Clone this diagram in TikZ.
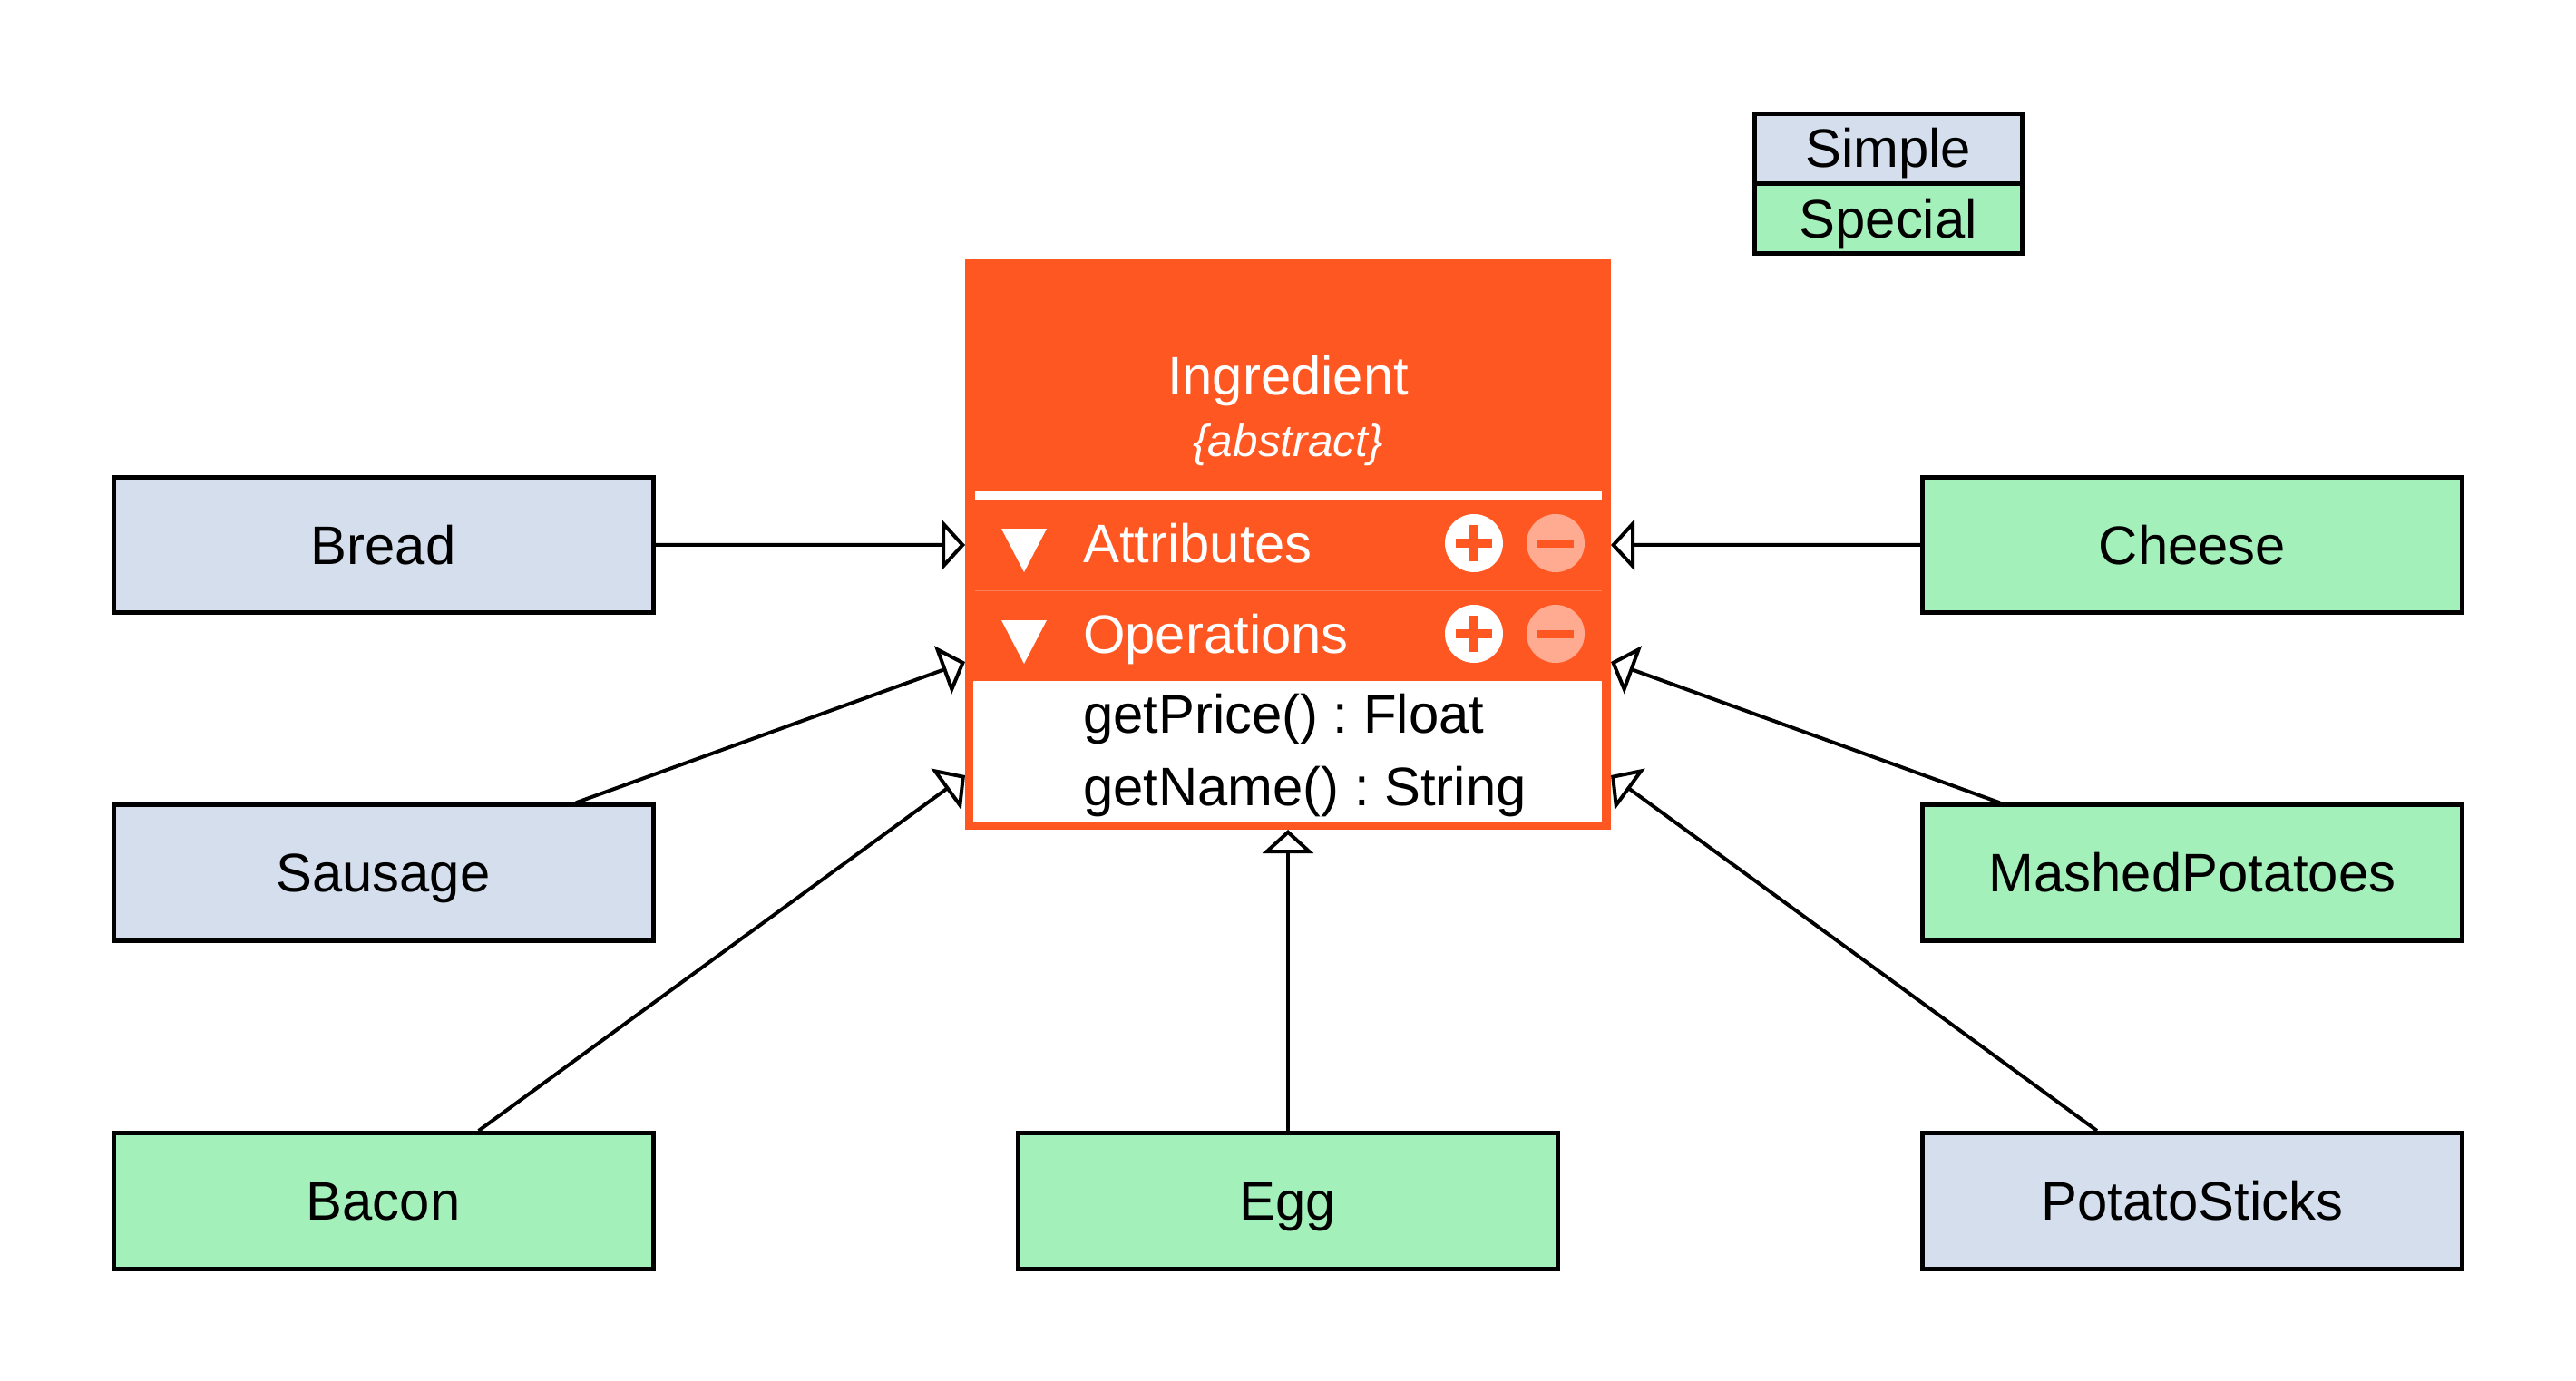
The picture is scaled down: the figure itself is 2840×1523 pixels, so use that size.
\documentclass[tikz,border=0pt]{standalone}
\usepackage{fontspec}
\setmainfont{Liberation Sans}
\usetikzlibrary{arrows.meta,calc}
\definecolor{dorange}{HTML}{FF5722}
\definecolor{lorange}{HTML}{FFAB91}
\definecolor{sblue}{HTML}{D4DEED}
\definecolor{sgreen}{HTML}{A3F0BA}
\frenchspacing
\begin{document}
\begin{tikzpicture}[x=1pt,y=-1pt,
  bigfont/.style={font=\fontsize{59.8pt}{72pt}\selectfont},
  cls/.style={draw=black, line width=5pt, minimum width=595pt, minimum height=149.5pt,
    inner sep=0pt, bigfont, text height=42.5pt, text depth=0pt},
  simplebox/.style={cls, fill=sblue},
  specialbox/.style={cls, fill=sgreen},
  legendbox/.style={draw=black, line width=5pt, minimum width=294.5pt, inner sep=0pt,
    bigfont, text height=42.5pt, text depth=0pt},
  inh/.style={line width=4pt, -{Triangle[length=26pt,width=56pt,fill=white]}},
  rowtext/.style={anchor=base west, inner sep=0pt, bigfont},
  plusicon/.style={fill=white},
  minusicon/.style={fill=lorange},
]
\useasboundingbox (0,0) rectangle (2840,1523);

% legend
\node[legendbox, fill=sblue, minimum height=77pt] (lsimple) at (2081.75,163.5) {Simple};
\node[legendbox, fill=sgreen, minimum height=77.5pt] (lspecial) at (2081.75,240.75) {Special};

% central class
\node[fill=dorange, minimum width=712pt, minimum height=629pt, inner sep=0pt, outer sep=0pt] (ing) at (1420,600.5) {};
\fill[white] (1073,751) rectangle (1766,907);
\fill[white] (1075,542) rectangle (1766,551);
\draw[white, opacity=0.25, line width=1pt] (1075,651) -- (1766,651);

\node[anchor=base, inner sep=0pt, text=white, bigfont] (title) at (1420,435) {Ingredient};
\node[anchor=base, inner sep=0pt, text=white, font=\fontsize{49.5pt}{59pt}\selectfont\itshape] (stereo) at (1420,503) {\{abstract\}};

% rows
\fill[white] (1104,583) -- (1154,583) -- (1129,631) -- cycle;
\fill[white] (1104,684) -- (1154,684) -- (1129,732) -- cycle;
\node[rowtext, text=white] (attr) at (1194,620) {Attributes};
\node[rowtext, text=white] (ops) at (1194,720) {Operations};

\foreach \yy in {599,699}{
  \fill[plusicon] (1625,\yy) circle (32);
  \fill[dorange] (1605,\yy-4.75) rectangle (1645,\yy+4.75);
  \fill[dorange] (1620.25,\yy-20) rectangle (1629.75,\yy+20);
  \fill[minusicon] (1715,\yy) circle (32);
  \fill[dorange] (1695,\yy-4.5) rectangle (1735,\yy+4.5);
}

\node[rowtext, text=black] (op1) at (1194,808) {getPrice() : Float};
\node[rowtext, text=black] (op2) at (1194,888) {getName() : String};

% subclasses
\node[simplebox] (bread) at (422.5,600.75) {Bread};
\node[simplebox] (sausage) at (422.5,962.5) {Sausage};
\node[specialbox] (bacon) at (422.5,1324.25) {Bacon};
\node[specialbox] (egg) at (1420,1324.25) {Egg};
\node[specialbox] (cheese) at (2417,600.75) {Cheese};
\node[specialbox] (mashed) at (2417,962.5) {MashedPotatoes};
\node[simplebox] (sticks) at (2417,1324.25) {PotatoSticks};

% target points on the class box
\coordinate (tl1) at (1064,601);
\coordinate (tl2) at (1064,730);
\coordinate (tl3) at (1064,855);
\coordinate (tr1) at (1776,601);
\coordinate (tr2) at (1776,730);
\coordinate (tr3) at (1776,855);

\draw[inh] (bread) -- (tl1);
\draw[inh] (sausage) -- (tl2);
\draw[inh] (bacon) -- (tl3);
\draw[inh] (egg) -- (ing.south);
\draw[inh] (cheese) -- (tr1);
\draw[inh] (mashed) -- (tr2);
\draw[inh] (sticks) -- (tr3);
\end{tikzpicture}
\end{document}
